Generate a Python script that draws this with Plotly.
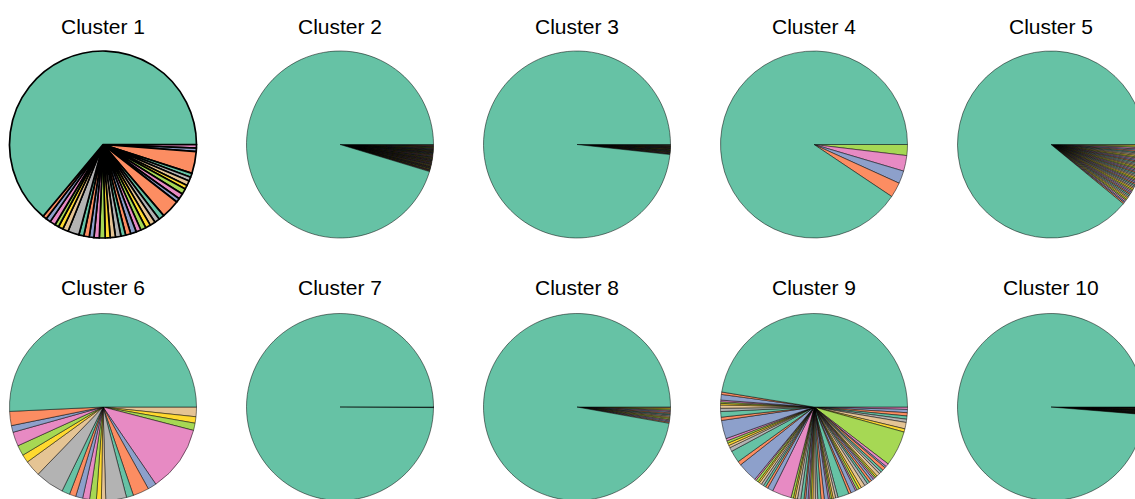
import plotly.graph_objects as go

# ---------------- data (percent share of each category, in plotting order) -------------
titles = ["Cluster 1", "Cluster 2", "Cluster 3", "Cluster 4", "Cluster 5",
          "Cluster 6", "Cluster 7", "Cluster 8", "Cluster 9", "Cluster 10"]

cluster1 = [63.89,
            0.69, 0.83, 0.97, 0.69, 0.83, 0.97, 1.94,
            0.85, 0.95, 0.80, 0.92, 1.00, 0.86, 0.90, 0.95, 0.82, 0.90, 0.98, 0.85,
            0.92, 0.88, 0.95, 0.90, 0.96,
            3.22, 0.69, 0.97, 0.97, 0.69, 0.83, 0.69, 0.69, 3.78, 0.61, 0.61]

cluster2 = [95.3,
            0.09, 0.07, 0.08, 0.06, 0.10, 0.08, 0.07, 0.09, 0.08, 0.06,
            0.07, 0.09, 0.08, 0.10, 0.07, 0.06, 0.08, 0.09, 0.07, 0.08,
            0.08, 0.07, 0.09, 0.06, 0.08, 0.10, 0.07, 0.08, 0.09, 0.07,
            0.06, 0.08, 0.07, 0.09, 0.08, 0.07, 0.10, 0.08, 0.06, 0.09,
            0.07, 0.08, 0.09, 0.07, 0.08, 0.06, 0.08, 0.09, 0.07, 0.08,
            0.09, 0.07, 0.08, 0.06, 0.08, 0.07, 0.09, 0.08, 0.07, 0.08]

cluster3 = [98.3,
            0.07, 0.06, 0.08, 0.07, 0.06, 0.07, 0.08, 0.06, 0.07, 0.07,
            0.06, 0.08, 0.07, 0.07, 0.06, 0.07, 0.08, 0.06, 0.07, 0.07,
            0.06, 0.07, 0.08, 0.06, 0.07]

cluster4 = [90.7, 2.6, 2.2, 2.7, 1.9]

cluster5 = [89.0,
            0.24, 0.22, 0.26, 0.23, 0.25, 0.21, 0.24, 0.26, 0.22, 0.25,
            0.23, 0.24, 0.26, 0.22, 0.25, 0.24, 0.23, 0.26, 0.22, 0.24,
            0.25, 0.23, 0.24, 0.26, 0.22, 0.25, 0.24, 0.23, 0.25, 0.22,
            0.24, 0.26, 0.23, 0.25, 0.24, 0.22, 0.26, 0.24, 0.25, 0.23,
            0.24, 0.26, 0.28, 0.25, 0.30]

cluster6 = [50.75, 2.44, 1.17, 2.44, 1.81, 1.39, 2.78, 5.00, 1.39, 1.11, 1.22, 1.19,
            1.17, 0.86, 0.75, 3.58, 1.22, 2.78, 1.50, 11.42, 1.25, 1.11, 1.67]

cluster7 = [99.9, 0.03, 0.02, 0.03, 0.02]

cluster8 = [97.2,
            0.19, 0.21, 0.20, 0.22, 0.18, 0.20, 0.21,
            0.19, 0.20, 0.22, 0.19, 0.20, 0.21, 0.18]

cluster9 = [47.5,
            0.42, 0.97, 0.28, 0.28, 0.28, 0.56, 0.56, 0.97, 0.56, 3.19,
            0.42, 0.42, 0.42, 0.42, 0.69, 2.08, 0.69, 3.47, 0.28, 0.42,
            0.28, 0.42, 0.42, 0.42, 0.42, 0.97, 3.33, 0.42, 0.28, 0.42,
            0.56, 0.56, 0.28, 0.42, 0.28, 0.28, 0.28, 0.42, 0.42, 0.56,
            0.56, 0.69, 0.28, 0.28, 0.28, 0.42, 0.42, 1.94, 0.42, 0.83,
            0.28, 0.42, 0.42, 0.69, 0.56, 0.42, 0.42, 0.42, 0.28, 0.28,
            0.28, 0.56, 0.42, 0.42, 0.56, 0.28, 0.56, 6.11, 0.56, 1.11,
            0.56, 0.56, 0.56, 0.56, 0.42]

cluster10 = [98.7,
             0.04, 0.05, 0.04, 0.04, 0.05, 0.04, 0.04, 0.05, 0.04, 0.04,
             0.05, 0.04, 0.04, 0.05, 0.04, 0.04, 0.05, 0.04, 0.04, 0.05,
             0.04, 0.04, 0.05, 0.04, 0.04, 0.05, 0.04, 0.04, 0.05, 0.04]

clusters = [cluster1, cluster2, cluster3, cluster4, cluster5,
            cluster6, cluster7, cluster8, cluster9, cluster10]

# ---------------- style ----------------
SET2 = ["#66c2a5", "#fc8d62", "#8da0cb", "#e78ac3",
        "#a6d854", "#ffd92f", "#e5c494", "#b3b3b3"]

W, H = 1145, 502
R = 93.5
col_x = [103, 340, 577, 814, 1051]
row_y = [144.5, 407]
title_y = [27, 287]

fig = go.Figure()
annotations = []
for k, vals in enumerate(clusters):
    r, c = divmod(k, 5)
    cx, cy = col_x[c], row_y[r]
    cols = [SET2[i % len(SET2)] for i in range(len(vals))]
    # matplotlib-style: start at 3 o'clock, counterclockwise -> reversed + clockwise in plotly
    v_rev = vals[::-1]
    c_rev = cols[::-1]
    thick = (k == 0)
    fig.add_trace(go.Pie(
        values=v_rev,
        labels=[f"{titles[k]} part {len(vals) - i}" for i in range(len(vals))],
        marker=dict(colors=c_rev,
                    line=dict(color="#000000", width=1.7 if thick else 0.5)),
        sort=False,
        direction="clockwise",
        rotation=90,
        textinfo="none",
        hoverinfo="label+percent",
        showlegend=False,
        domain=dict(x=[(cx - R) / W, (cx + R) / W],
                    y=[1 - (cy + R) / H, 1 - (cy - R) / H]),
    ))
    annotations.append(dict(
        text=titles[k], x=cx / W, y=1 - title_y[r] / H,
        xref="paper", yref="paper", xanchor="center", yanchor="middle",
        showarrow=False,
        font=dict(family="Liberation Sans, Arial, sans-serif", size=21, color="#000000"),
    ))

fig.update_layout(
    width=W, height=H,
    margin=dict(l=0, r=0, t=0, b=0),
    paper_bgcolor="white", plot_bgcolor="white",
    annotations=annotations,
)

fig.write_html(
    "out.html",
    post_script="document.body.style.margin='0';"
                "document.body.style.overflow='hidden';"
                "document.documentElement.style.overflow='hidden';",
)
